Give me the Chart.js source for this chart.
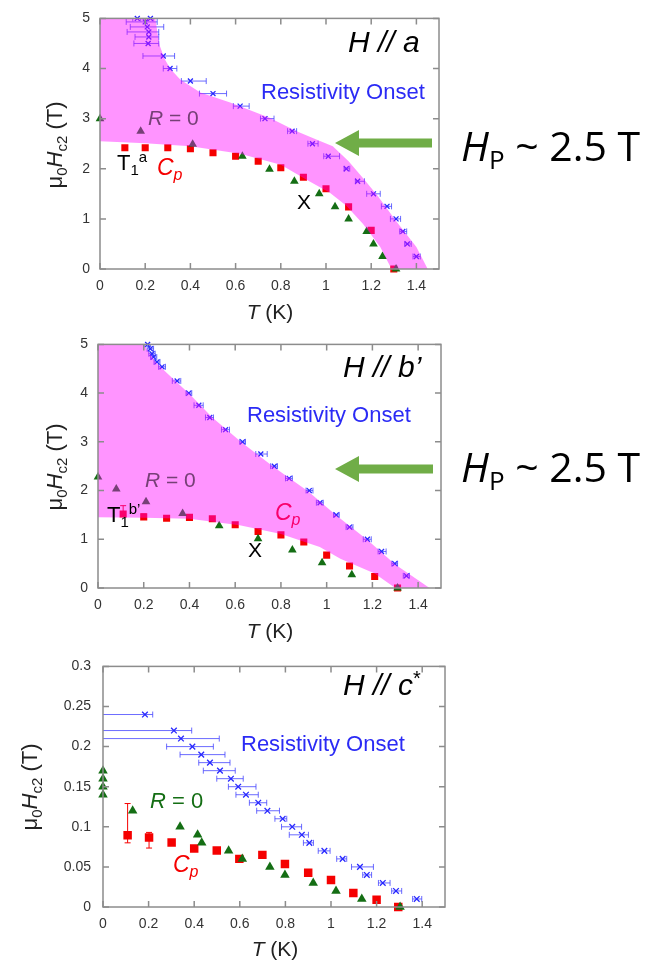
<!DOCTYPE html>
<html>
<head>
<meta charset="utf-8">
<script src="https://cdn.jsdelivr.net/npm/chart.js@4.4.1/dist/chart.umd.min.js"></script>
<style>
html, body { margin: 0; padding: 0; background: #fff; }
#wrap { position: relative; width: 649px; height: 961px; overflow: hidden; }
.panel { position: absolute; left: 0; width: 649px; }
</style>
</head>
<body>
<div id="wrap">
  <div class="panel" style="top:0px"><canvas id="cA" width="649" height="326"></canvas></div>
  <div class="panel" style="top:326px"><canvas id="cB" width="649" height="320"></canvas></div>
  <div class="panel" style="top:646px"><canvas id="cC" width="649" height="315"></canvas></div>
</div>
<script>
// tick values and labels
var xTicks = [0, 0.2, 0.4, 0.6, 0.8, 1, 1.2, 1.4];
var xTickLabels = ['0', '0.2', '0.4', '0.6', '0.8', '1', '1.2', '1.4'];
var yTicksAB = [0, 1, 2, 3, 4, 5];
var yTickLabelsAB = ['0', '1', '2', '3', '4', '5'];
var yTicksC = [0, 0.05, 0.1, 0.15, 0.2, 0.25, 0.3];
var yTickLabelsC = ['0', '0.05', '0.1', '0.15', '0.2', '0.25', '0.3'];

// H // a
var onsetA_T   = [0.165, 0.223, 0.2, 0.209, 0.216, 0.216, 0.213, 0.28, 0.31, 0.40, 0.50, 0.62, 0.73, 0.85, 0.94, 1.01, 1.09, 1.14, 1.21, 1.27, 1.31, 1.34, 1.36, 1.40];
var onsetA_H   = [5.0, 5.0, 4.93, 4.83, 4.73, 4.63, 4.5, 4.25, 4.0, 3.75, 3.5, 3.25, 3.0, 2.75, 2.5, 2.25, 2.0, 1.75, 1.5, 1.25, 1.0, 0.75, 0.5, 0.25];
var onsetA_Tlo = [0.145, 0.21, 0.116, 0.134, 0.12, 0.155, 0.15, 0.19, 0.28, 0.36, 0.44, 0.59, 0.71, 0.83, 0.92, 0.99, 1.08, 1.13, 1.18, 1.245, 1.285, 1.326, 1.348, 1.385];
var onsetA_Thi = [0.18, 0.235, 0.253, 0.282, 0.26, 0.26, 0.26, 0.33, 0.34, 0.47, 0.56, 0.66, 0.77, 0.87, 0.965, 1.06, 1.105, 1.17, 1.24, 1.29, 1.33, 1.357, 1.377, 1.417];
var cpA_T = [0.11, 0.2, 0.3, 0.4, 0.5, 0.6, 0.7, 0.8, 0.9, 1.0, 1.1, 1.2, 1.3];
var cpA_H = [2.42, 2.42, 2.42, 2.40, 2.32, 2.25, 2.15, 2.02, 1.83, 1.60, 1.24, 0.77, 0];
var r0A_T = [0, 0.18, 0.41, 0.63, 0.75, 0.86, 0.97, 1.04, 1.1, 1.18, 1.21, 1.25, 1.31];
var r0A_H = [3.0, 2.75, 2.49, 2.25, 1.99, 1.75, 1.5, 1.24, 1.0, 0.75, 0.5, 0.25, 0];
var bandA_T = [0, 0.245, 0.255, 0.265, 0.285, 0.31, 0.355, 0.444, 0.576, 0.75, 0.87, 0.96, 1.03, 1.1, 1.17, 1.23, 1.31, 1.40, 1.45,
               1.29, 1.24, 1.164, 1.09, 1.017, 0.914, 0.8, 0.62, 0.4, 0.2, 0];
var bandA_H = [5, 5, 4.7, 4.45, 4.2, 4.0, 3.78, 3.52, 3.32, 3.02, 2.75, 2.58, 2.45, 2.15, 1.78, 1.45, 0.96, 0.44, 0,
               0, 0.44, 0.9, 1.26, 1.52, 1.78, 2.08, 2.30, 2.45, 2.51, 2.55];

// H // b'
var onsetB_T = [0.217, 0.229, 0.236, 0.243, 0.258, 0.28, 0.346, 0.397, 0.441, 0.489, 0.558, 0.632, 0.712, 0.771, 0.836, 0.924, 0.971, 1.042, 1.10, 1.178, 1.24, 1.298, 1.349];
var onsetB_H = [5.0, 4.91, 4.81, 4.74, 4.64, 4.54, 4.25, 4.0, 3.75, 3.5, 3.25, 3.0, 2.75, 2.5, 2.25, 2.0, 1.75, 1.5, 1.25, 1.0, 0.75, 0.5, 0.25];
var onsetB_Tlo = [0.205, 0.215, 0.222, 0.23, 0.245, 0.265, 0.325, 0.385, 0.42, 0.47, 0.54, 0.62, 0.69, 0.755, 0.82, 0.91, 0.955, 1.03, 1.085, 1.16, 1.225, 1.285, 1.335];
var onsetB_Thi = [0.23, 0.243, 0.25, 0.257, 0.271, 0.295, 0.362, 0.41, 0.46, 0.505, 0.575, 0.645, 0.74, 0.785, 0.85, 0.94, 0.985, 1.055, 1.115, 1.195, 1.26, 1.31, 1.362];
var cpB_T = [0.11, 0.2, 0.3, 0.4, 0.5, 0.6, 0.7, 0.8, 0.9, 1.0, 1.1, 1.21, 1.31];
var cpB_H = [1.52, 1.46, 1.43, 1.45, 1.42, 1.30, 1.16, 1.09, 0.945, 0.675, 0.45, 0.235, 0];
var cpB_Hlo = [1.47, 1.44, null, null, null, null, null, null, null, null, null, null, null];
var cpB_Hhi = [1.69, 1.52, null, null, null, null, null, null, null, null, null, null, null];
var r0B_T = [0, 0.08, 0.21, 0.37, 0.53, 0.70, 0.85, 0.98, 1.11, 1.31];
var r0B_H = [2.28, 2.03, 1.77, 1.53, 1.28, 1.01, 0.78, 0.52, 0.27, 0];
var bandB_T = [0, 0.2, 0.25, 0.3, 0.4, 0.5, 0.63, 0.77, 0.92, 1.04, 1.18, 1.30, 1.45,
               1.30, 1.21, 1.06, 0.97, 0.80, 0.62, 0.4, 0.2, 0];
var bandB_H = [5, 5, 4.65, 4.42, 3.98, 3.5, 2.98, 2.48, 1.98, 1.5, 0.98, 0.48, 0,
               0, 0.30, 0.60, 0.84, 1.11, 1.29, 1.42, 1.44, 1.45];

// H // c*
var onsetC_T = [0.184, 0.311, 0.342, 0.392, 0.431, 0.469, 0.513, 0.561, 0.593, 0.627, 0.681, 0.721, 0.788, 0.83, 0.872, 0.905, 0.971, 1.051, 1.127, 1.157, 1.227, 1.285, 1.376];
var onsetC_H = [0.24, 0.22, 0.21, 0.20, 0.19, 0.18, 0.17, 0.16, 0.15, 0.14, 0.13, 0.12, 0.11, 0.10, 0.09, 0.08, 0.07, 0.06, 0.05, 0.04, 0.03, 0.02, 0.01];
var onsetC_Tlo = [-0.2, -0.2, -0.2, 0.279, 0.338, 0.42, 0.44, 0.499, 0.55, 0.583, 0.642, 0.674, 0.754, 0.783, 0.817, 0.879, 0.944, 1.025, 1.09, 1.139, 1.208, 1.266, 1.358];
var onsetC_Thi = [0.218, 0.389, 0.51, 0.484, 0.535, 0.557, 0.58, 0.615, 0.671, 0.681, 0.718, 0.774, 0.806, 0.871, 0.901, 0.923, 0.996, 1.069, 1.186, 1.178, 1.259, 1.31, 1.398];
var cpC_T = [0.108, 0.202, 0.301, 0.40, 0.499, 0.598, 0.699, 0.798, 0.90, 1.0, 1.098, 1.20, 1.295];
var cpC_H = [0.0895, 0.0866, 0.0805, 0.073, 0.0704, 0.060, 0.065, 0.0537, 0.0427, 0.0338, 0.0176, 0.009, 0];
var cpC_Hlo = [0.08, 0.0735, null, null, null, null, null, null, null, null, null, null, null];
var cpC_Hhi = [0.129, 0.093, null, null, null, null, null, null, null, null, null, null, null];
var r0C_T = [0, 0, 0, 0, 0.13, 0.338, 0.415, 0.433, 0.551, 0.611, 0.732, 0.798, 0.922, 1.022, 1.135, 1.303];
var r0C_H = [0.17, 0.16, 0.15, 0.14, 0.12, 0.10, 0.09, 0.08, 0.07, 0.06, 0.05, 0.04, 0.03, 0.02, 0.01, 0];

var LS = "'Liberation Sans', Arial, sans-serif";
var OS = "'Open Sans', 'Noto Sans', sans-serif";
var BLUE = 'rgb(40,40,255)';
var RED = 'rgb(245,0,0)';
var GREEN = 'rgb(20,110,20)';

function pts(xs, ys) {
  return xs.map(function (x, i) { return { x: x, y: ys[i] }; });
}

// draw a run of text pieces: [text, font, dy, color]
function rich(ctx, x, y, parts, align) {
  var w = 0;
  parts.forEach(function (p) { ctx.font = p[1]; w += ctx.measureText(p[0]).width; });
  var cx = align === 'center' ? x - w / 2 : x;
  ctx.textAlign = 'left';
  ctx.textBaseline = 'alphabetic';
  parts.forEach(function (p) {
    ctx.font = p[1];
    ctx.fillStyle = p[3] || '#000';
    ctx.fillText(p[0], cx, y + (p[2] || 0));
    cx += ctx.measureText(p[0]).width;
  });
}

function drawTexts(ctx, list) {
  (list || []).forEach(function (t) { rich(ctx, t.x, t.y, t.parts, t.align); });
}

function drawErrors(chart) {
  var ctx = chart.ctx, a = chart.chartArea;
  var xs = chart.scales.x, ys = chart.scales.y;
  ctx.save();
  ctx.beginPath();
  ctx.rect(a.left, a.top, a.right - a.left, a.bottom - a.top);
  ctx.clip();
  chart.data.datasets.forEach(function (ds) {
    if (!ds.errLo) return;
    ctx.strokeStyle = ds.errColor;
    ctx.lineWidth = 1;
    ds.data.forEach(function (d, i) {
      var lo = ds.errLo[i], hi = ds.errHi[i];
      if (lo == null) return;
      ctx.beginPath();
      if (ds.errDir === 'x') {
        var py = ys.getPixelForValue(d.y);
        var x1 = xs.getPixelForValue(lo), x2 = xs.getPixelForValue(hi);
        ctx.moveTo(x1, py); ctx.lineTo(x2, py);
        ctx.moveTo(x1, py - 3); ctx.lineTo(x1, py + 3);
        ctx.moveTo(x2, py - 3); ctx.lineTo(x2, py + 3);
      } else {
        var px = xs.getPixelForValue(d.x);
        var y1 = ys.getPixelForValue(lo), y2 = ys.getPixelForValue(hi);
        ctx.moveTo(px, y1); ctx.lineTo(px, y2);
        ctx.moveTo(px - 3, y1); ctx.lineTo(px + 3, y1);
        ctx.moveTo(px - 3, y2); ctx.lineTo(px + 3, y2);
      }
      ctx.stroke();
    });
  });
  ctx.restore();
}

function drawFrame(chart, p) {
  var ctx = chart.ctx, a = chart.chartArea;
  var xs = chart.scales.x, ys = chart.scales.y;
  ctx.save();
  ctx.strokeStyle = '#8c8c8c';
  ctx.lineWidth = 1.5;
  ctx.strokeRect(a.left, a.top, a.right - a.left, a.bottom - a.top);
  ctx.beginPath();
  xTicks.forEach(function (v) {
    var px = xs.getPixelForValue(v);
    ctx.moveTo(px, a.bottom); ctx.lineTo(px, a.bottom - 6);
    ctx.moveTo(px, a.top); ctx.lineTo(px, a.top + 6);
  });
  p.yTicks.forEach(function (v) {
    var py = ys.getPixelForValue(v);
    ctx.moveTo(a.left, py); ctx.lineTo(a.left + 6, py);
    ctx.moveTo(a.right, py); ctx.lineTo(a.right - 6, py);
  });
  ctx.stroke();
  ctx.restore();
}

function drawYTitle(ctx, x, y) {
  ctx.save();
  ctx.translate(x, y);
  ctx.rotate(-Math.PI / 2);
  rich(ctx, 0, 0, [
    ['\u03bc', '22px ' + LS, 0, '#222'],
    ['0', '15px ' + LS, 5, '#222'],
    ['H', 'italic 22px ' + LS, 0, '#222'],
    ['c2', '15px ' + LS, 5, '#222'],
    [' (T)', '22px ' + LS, 0, '#222']
  ], 'center');
  ctx.restore();
}

function drawArrow(ctx, ar) {
  ctx.save();
  ctx.fillStyle = '#70ad47';
  ctx.beginPath();
  ctx.moveTo(ar.tip, ar.y);
  ctx.lineTo(ar.tip + 24, ar.y - 13);
  ctx.lineTo(ar.tip + 24, ar.y - 4.5);
  ctx.lineTo(ar.end, ar.y - 4.5);
  ctx.lineTo(ar.end, ar.y + 4.5);
  ctx.lineTo(ar.tip + 24, ar.y + 4.5);
  ctx.lineTo(ar.tip + 24, ar.y + 13);
  ctx.closePath();
  ctx.fill();
  ctx.restore();
}

function makeChart(p) {
  var L = p.area[0], T = p.area[1], R = p.area[2], B = p.area[3];
  var H = document.getElementById(p.id).height;
  var deco = {
    id: 'deco_' + p.id,
    beforeDatasetsDraw: function (chart) {
      drawErrors(chart);
      drawTexts(chart.ctx, p.under);
    },
    afterDatasetsDraw: function (chart) {
      drawFrame(chart, p);
      drawTexts(chart.ctx, p.over);
    },
    afterDraw: function (chart) {
      var ctx = chart.ctx;
      drawYTitle(ctx, p.yTitle.x, p.yTitle.y);
      rich(ctx, p.xTitle.x, p.xTitle.y, [
        ['T', 'italic 21px ' + LS, 0, '#222'],
        [' (K)', '21px ' + LS, 0, '#222']
      ], 'center');
      if (p.arrow) {
        drawArrow(ctx, p.arrow);
        rich(ctx, p.hp.x, p.hp.y, [
          ['H', 'italic 41px ' + OS, 0, '#000'],
          ['P', '26px ' + OS, 8, '#000'],
          [' ~ 2.5 T', '41px ' + OS, 0, '#000']
        ]);
      }
    }
  };
  return new Chart(document.getElementById(p.id), {
    type: 'scatter',
    data: {
      datasets: [
        {
          label: 'Resistivity Onset',
          data: pts(p.onset.T, p.onset.H),
          pointStyle: 'crossRot',
          pointRadius: p.size.cross,
          pointBorderWidth: 1.3,
          borderColor: BLUE,
          backgroundColor: BLUE,
          errDir: 'x', errLo: p.onset.lo, errHi: p.onset.hi,
          errColor: 'rgba(70,70,255,0.8)',
          clip: 8,
          order: 3
        },
        {
          label: 'Cp',
          data: pts(p.cp.T, p.cp.H),
          pointStyle: 'rect',
          pointRadius: p.size.rect,
          pointBorderWidth: 0,
          borderColor: RED,
          backgroundColor: RED,
          errDir: 'y', errLo: p.cp.lo, errHi: p.cp.hi,
          errColor: RED,
          clip: 8,
          order: 2
        },
        {
          label: 'R = 0',
          data: pts(p.r0.T, p.r0.H),
          pointStyle: 'triangle',
          pointRadius: p.size.tri,
          pointBorderWidth: 0,
          borderColor: GREEN,
          backgroundColor: GREEN,
          clip: 8,
          order: 1
        },
        p.band ? {
          label: 'band',
          data: pts(p.band.T, p.band.H),
          showLine: true,
          fill: 'shape',
          pointRadius: 0,
          borderWidth: 0,
          borderColor: 'rgba(0,0,0,0)',
          backgroundColor: 'rgba(255,0,255,0.42)',
          order: -1
        } : null
      ].filter(Boolean)
    },
    options: {
      responsive: false,
      animation: false,
      events: [],
      layout: { padding: { top: T, right: 649 - R, left: 0, bottom: 0 } },
      plugins: { legend: { display: false }, tooltip: { enabled: false } },
      scales: {
        x: {
          type: 'linear', min: 0, max: 1.5,
          grid: { display: false, drawTicks: false },
          border: { display: false },
          afterFit: function (s) { s.height = H - B; },
          afterBuildTicks: function (s) { s.ticks = xTicks.map(function (v) { return { value: v }; }); },
          ticks: {
            padding: 9, autoSkip: false, maxRotation: 0, color: '#333',
            font: { family: LS, size: 14 },
            callback: function (v, i) { return xTickLabels[i]; }
          }
        },
        y: {
          type: 'linear', min: 0, max: p.yMax,
          grid: { display: false, drawTicks: false },
          border: { display: false },
          afterFit: function (s) { s.width = L; },
          afterBuildTicks: function (s) { s.ticks = p.yTicks.map(function (v) { return { value: v }; }); },
          ticks: {
            padding: p.yPad, autoSkip: false, color: '#333',
            font: { family: LS, size: 14 },
            callback: function (v, i) { return p.yLabels[i]; }
          }
        }
      }
    },
    plugins: [deco]
  });
}

makeChart({
  id: 'cA', area: [100, 15, 439, 269], yMax: 5, yTicks: yTicksAB, yLabels: yTickLabelsAB, yPad: 10,
  onset: { T: onsetA_T, H: onsetA_H, lo: onsetA_Tlo, hi: onsetA_Thi },
  cp: { T: cpA_T, H: cpA_H, lo: null, hi: null },
  r0: { T: r0A_T, H: r0A_H },
  band: { T: bandA_T, H: bandA_H },
  size: { cross: 3.5, rect: 5, tri: 5 },
  under: [
    { x: 148, y: 125, parts: [['R', 'italic 21px ' + LS, 0, GREEN], [' = 0', '21px ' + LS, 0, GREEN]] },
    { x: 157, y: 175, parts: [['C', 'italic 23px ' + LS, 0, RED], ['p', 'italic 16px ' + LS, 5, RED]] }
  ],
  over: [
    { x: 348, y: 52, parts: [['H // a', 'italic 30px ' + LS, 0, '#000']] },
    { x: 261, y: 99, parts: [['Resistivity Onset', '22px ' + LS, 0, '#2b2bf5']] },
    { x: 117, y: 170, parts: [['T', '22px ' + LS, 0, '#000'], ['1', '15px ' + LS, 5, '#000'], ['a', '15px ' + LS, -8, '#000']] },
    { x: 297, y: 209, parts: [['X', '21px ' + LS, 0, '#000']] }
  ],
  yTitle: { x: 62, y: 145 }, xTitle: { x: 270, y: 319 },
  arrow: { tip: 335, end: 432, y: 143 }, hp: { x: 461, y: 161 }
});

makeChart({
  id: 'cB', area: [98, 16, 441, 262], yMax: 5, yTicks: yTicksAB, yLabels: yTickLabelsAB, yPad: 10,
  onset: { T: onsetB_T, H: onsetB_H, lo: onsetB_Tlo, hi: onsetB_Thi },
  cp: { T: cpB_T, H: cpB_H, lo: cpB_Hlo, hi: cpB_Hhi },
  r0: { T: r0B_T, H: r0B_H },
  band: { T: bandB_T, H: bandB_H },
  size: { cross: 3.5, rect: 5, tri: 5 },
  under: [
    { x: 145, y: 161, parts: [['R', 'italic 21px ' + LS, 0, GREEN], [' = 0', '21px ' + LS, 0, GREEN]] },
    { x: 275, y: 194, parts: [['C', 'italic 23px ' + LS, 0, RED], ['p', 'italic 16px ' + LS, 5, RED]] }
  ],
  over: [
    { x: 343, y: 51, parts: [['H // b\u2019', 'italic 30px ' + LS, 0, '#000']] },
    { x: 247, y: 96, parts: [['Resistivity Onset', '22px ' + LS, 0, '#2b2bf5']] },
    { x: 107, y: 196, parts: [['T', '22px ' + LS, 0, '#000'], ['1', '15px ' + LS, 5, '#000'], ['b\u2019', '15px ' + LS, -8, '#000']] },
    { x: 248, y: 231, parts: [['X', '21px ' + LS, 0, '#000']] }
  ],
  yTitle: { x: 62, y: 141 }, xTitle: { x: 270, y: 312 },
  arrow: { tip: 335, end: 433, y: 143 }, hp: { x: 461, y: 156 }
});

makeChart({
  id: 'cC', area: [103, 15, 445, 261], yMax: 0.3, yTicks: yTicksC, yLabels: yTickLabelsC, yPad: 12,
  onset: { T: onsetC_T, H: onsetC_H, lo: onsetC_Tlo, hi: onsetC_Thi },
  cp: { T: cpC_T, H: cpC_H, lo: cpC_Hlo, hi: cpC_Hhi },
  r0: { T: r0C_T, H: r0C_H },
  band: null,
  size: { cross: 4, rect: 6, tri: 5.5 },
  under: [
    { x: 150, y: 162, parts: [['R', 'italic 22px ' + LS, 0, GREEN], [' = 0', '22px ' + LS, 0, GREEN]] },
    { x: 173, y: 226, parts: [['C', 'italic 23px ' + LS, 0, RED], ['p', 'italic 16px ' + LS, 5, RED]] }
  ],
  over: [
    { x: 343, y: 49, parts: [['H // c', 'italic 30px ' + LS, 0, '#000'], ['*', '20px ' + LS, -10, '#000']] },
    { x: 241, y: 105, parts: [['Resistivity Onset', '22px ' + LS, 0, '#2b2bf5']] }
  ],
  yTitle: { x: 37, y: 141 }, xTitle: { x: 275, y: 310 },
  arrow: null, hp: null
});
</script>
</body>
</html>
